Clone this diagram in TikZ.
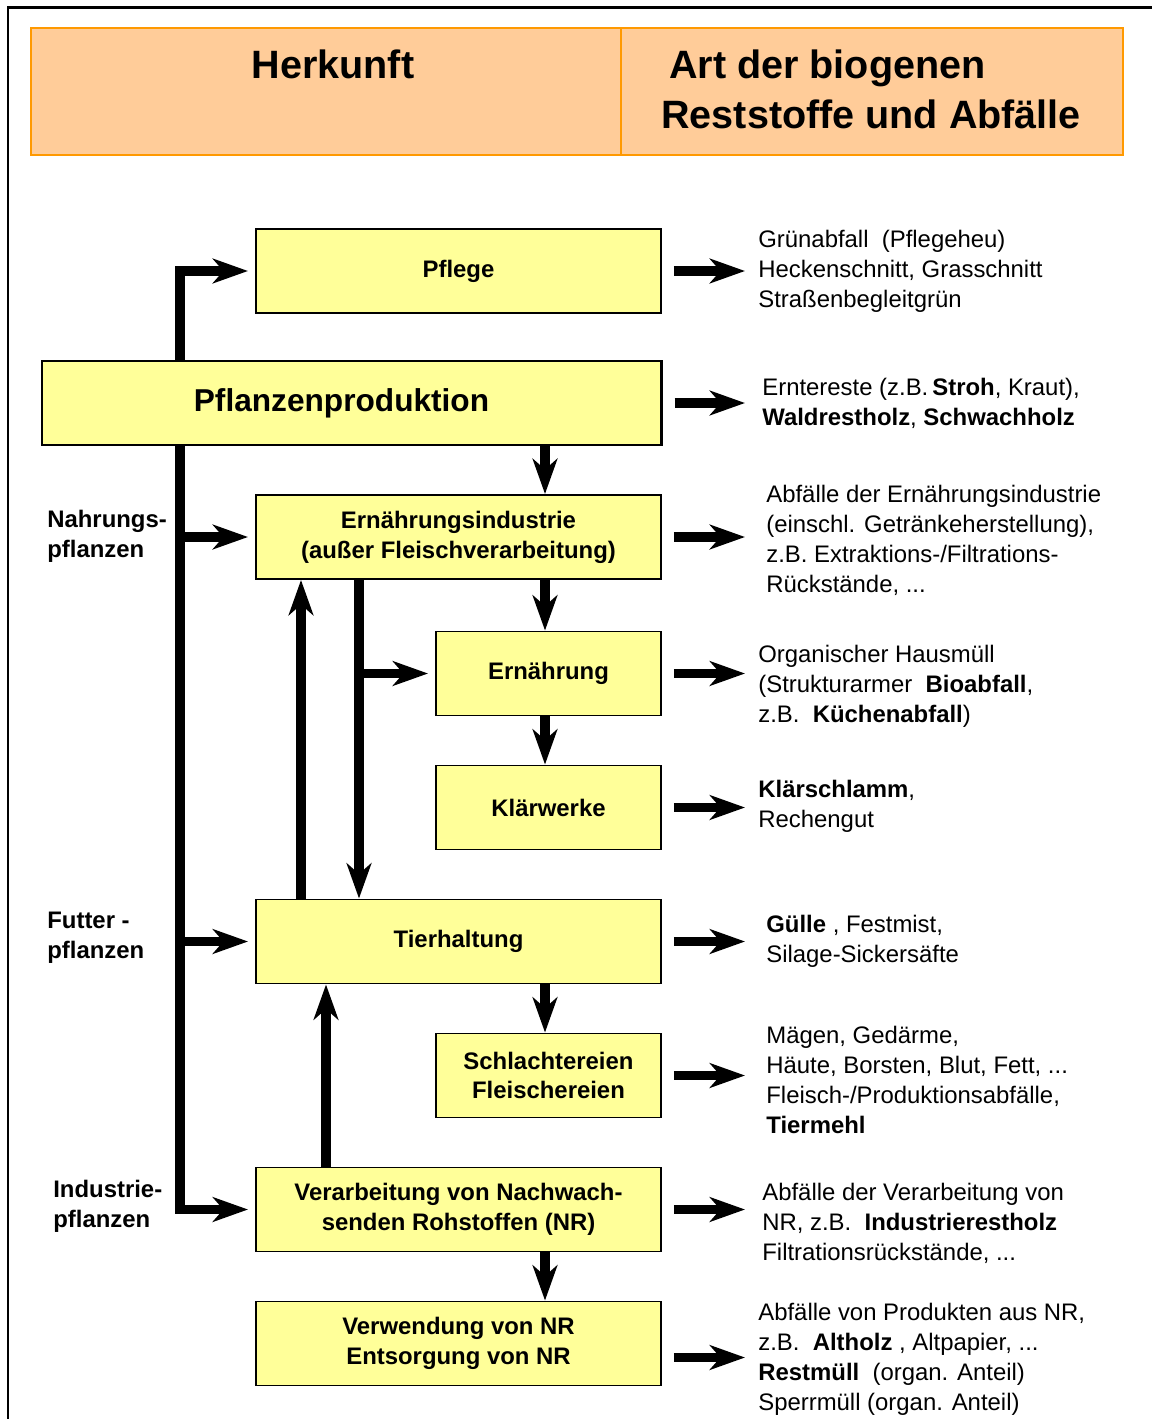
\documentclass[tikz,border=0pt]{standalone}
\usepackage{fontspec}
\setmainfont{Liberation Sans}
\usetikzlibrary{arrows.meta}

\definecolor{kopffarbe}{HTML}{FFCC99}
\definecolor{kopfrand}{HTML}{FF9900}
\definecolor{gelb}{HTML}{FFFF99}

\begin{document}
\begin{tikzpicture}
    % Stile
    \tikzstyle{kopf}=[rectangle, draw=kopfrand, fill=kopffarbe, line width=1.2pt, minimum height=2.54cm]
    \tikzstyle{kopftext}=[inner sep=0pt, font=\fontsize{22.5}{28.4}\selectfont\bfseries]
    \tikzstyle{kasten}=[rectangle, draw, fill=gelb, line width=1.1pt, minimum width=8.1cm, minimum height=1.68cm, align=center, font=\fontsize{13.6}{17}\selectfont\bfseries]
    \tikzstyle{kleinkasten}=[kasten, minimum width=4.5cm]
    \tikzstyle{abfall}=[anchor=west, inner sep=0pt, align=left, font=\fontsize{13.6}{17}\selectfont]
    \tikzstyle{pflanzen}=[abfall, font=\fontsize{13.6}{17}\selectfont\bfseries]
    \tikzstyle{pfeil}=[-{Stealth[length=20pt, width=14pt, inset=6pt]}, line width=5.5pt]
    \tikzstyle{ausgang}=[pfeil, shorten <=0.24cm]

    \useasboundingbox (0,0) rectangle (23.04,-28.38);

    % Rahmen
    \draw[line width=1.2pt] (23.04,-0.15) -- (0.16,-0.15) -- (0.16,-28.38);

    % Kopfzeile
    \node[kopf, minimum width=11.8cm] (herkunft) at (6.52,-1.83) {};
    \node[kopf, minimum width=10.04cm] (art) at (17.44,-1.83) {};
    \node[kopftext] (tHerkunft) at (6.66,-1.28) {Herkunft};
    \node[kopftext, anchor=west, align=left] (tArt) at (13.22,-1.78) {\hspace*{4.5pt}Art der biogenen\\Reststoffe und Abfälle};

    % Hilfspunkte
    \coordinate (stamm) at (3.6,0);
    \coordinate (hoch1) at (6.02,0);
    \coordinate (hoch2) at (6.52,0);
    \coordinate (runter) at (7.18,0);
    \coordinate (mitte) at (10.9,0);
    \coordinate (rechts) at (14.9,0);

    % Kaesten
    \node[kasten] (pflege) at (9.17,-5.42) {Pflege};
    \node[kasten, minimum width=12.38cm, line width=1.7pt, font=\fontsize{18}{22}\selectfont\bfseries] (pflanz) at (7.03,-8.06) {\hspace*{-0.4cm}Pflanzenproduktion};
    \node[kasten] (ernind) at (9.17,-10.74) {Ernährungsindustrie\\(außer Fleischverarbeitung)};
    \node[kleinkasten] (ern) at (10.97,-13.47) {Ernährung};
    \node[kleinkasten] (klaer) at (10.97,-16.15) {Klärwerke};
    \node[kasten] (tier) at (9.17,-18.83) {Tierhaltung};
    \node[kleinkasten] (schl) at (10.97,-21.51) {Schlachtereien\\Fleischereien};
    \node[kasten] (verarb) at (9.17,-24.19) {Verarbeitung von Nachwach-\\senden Rohstoffen (NR)};
    \node[kasten] (verw) at (9.17,-26.87) {Verwendung von NR\\Entsorgung von NR};

    % Pflanzenarten
    \node[pflanzen] (nahrung) at (0.94,-10.72) {Nahrungs-\\pflanzen};
    \node[pflanzen] (futter) at (0.94,-18.76) {Futter -\\pflanzen};
    \node[pflanzen] (industrie) at (1.06,-24.12) {Industrie-\\pflanzen};

    % Reststoffe und Abfaelle
    \node[abfall] (tPflege) at (15.16,-5.43) {Grünabfall~~(Pflegeheu)\\Heckenschnitt, Grasschnitt\\Straßenbegleitgrün};
    \node[abfall] (tPflanz) at (15.24,-8.06) {Erntereste (z.B.\,\textbf{Stroh}, Kraut),\\\textbf{Waldrestholz}, \textbf{Schwachholz}};
    \node[abfall] (tErnind) at (15.32,-10.81) {Abfälle der Ernährungsindustrie\\(einschl. Getränkeherstellung),\\z.B. Extraktions-/Filtrations-\\Rückstände, ...};
    \node[abfall] (tErn) at (15.16,-13.73) {Organischer Hausmüll\\(Strukturarmer~~\textbf{Bioabfall},\\z.B.~~\textbf{Küchenabfall})};
    \node[abfall] (tKlaer) at (15.16,-16.12) {\textbf{Klärschlamm},\\Rechengut};
    \node[abfall] (tTier) at (15.32,-18.82) {\textbf{Gülle} , Festmist,\\Silage-Sickersäfte};
    \node[abfall] (tSchl) at (15.32,-21.6) {Mägen, Gedärme,\\Häute, Borsten, Blut, Fett, ...\\Fleisch-/Produktionsabfälle,\\\textbf{Tiermehl}};
    \node[abfall] (tVerarb) at (15.24,-24.46) {Abfälle der Verarbeitung von\\NR, z.B.~~\textbf{Industrierestholz}\\Filtrationsrückstände, ...};
    \node[abfall] (tVerw) at (15.16,-27.19) {Abfälle von Produkten aus NR,\\z.B.~~\textbf{Altholz} , Altpapier, ...\\\textbf{Restmüll}~~(organ. Anteil)\\Sperrmüll (organ. Anteil)};

    % Stamm links
    \draw[pfeil, shorten >=4pt] (stamm |- pflanz.north) |- (pflege.west);
    \draw[pfeil, shorten >=4pt] (stamm |- pflanz.south) |- (verarb.west);
    \draw[pfeil, shorten >=4pt] (stamm |- ernind.west) -- (ernind.west);
    \draw[pfeil, shorten >=4pt] (stamm |- tier.west) -- (tier.west);

    % Senkrechte Pfeile
    \draw[pfeil] (mitte |- pflanz.south) -- (mitte |- ernind.north);
    \draw[pfeil] (mitte |- ernind.south) -- (mitte |- ern.north);
    \draw[pfeil] (mitte |- ern.south) -- (mitte |- klaer.north);
    \draw[pfeil] (mitte |- tier.south) -- (mitte |- schl.north);
    \draw[pfeil] (mitte |- verarb.south) -- (mitte |- verw.north);

    % Rueckfluesse
    \draw[pfeil] (hoch1 |- tier.north) -- (hoch1 |- ernind.south);
    \draw[pfeil] (runter |- ernind.south) -- (runter |- tier.north);
    \draw[pfeil, shorten >=4pt] (runter |- ern.west) -- (ern.west);
    \draw[pfeil] (hoch2 |- verarb.north) -- (hoch2 |- tier.south);

    % Pfeile nach rechts
    \draw[ausgang] (pflege.east) -- (pflege.east -| rechts);
    \draw[ausgang] (pflanz.east) -- (pflanz.east -| rechts);
    \draw[ausgang] (ernind.east) -- (ernind.east -| rechts);
    \draw[ausgang] (ern.east) -- (ern.east -| rechts);
    \draw[ausgang] (klaer.east) -- (klaer.east -| rechts);
    \draw[ausgang] (tier.east) -- (tier.east -| rechts);
    \draw[ausgang] (schl.east) -- (schl.east -| rechts);
    \draw[ausgang] (verarb.east) -- (verarb.east -| rechts);
    \draw[ausgang] ([yshift=-0.28cm]verw.east) -- ([yshift=-0.28cm]verw.east -| rechts);
\end{tikzpicture}
\end{document}
